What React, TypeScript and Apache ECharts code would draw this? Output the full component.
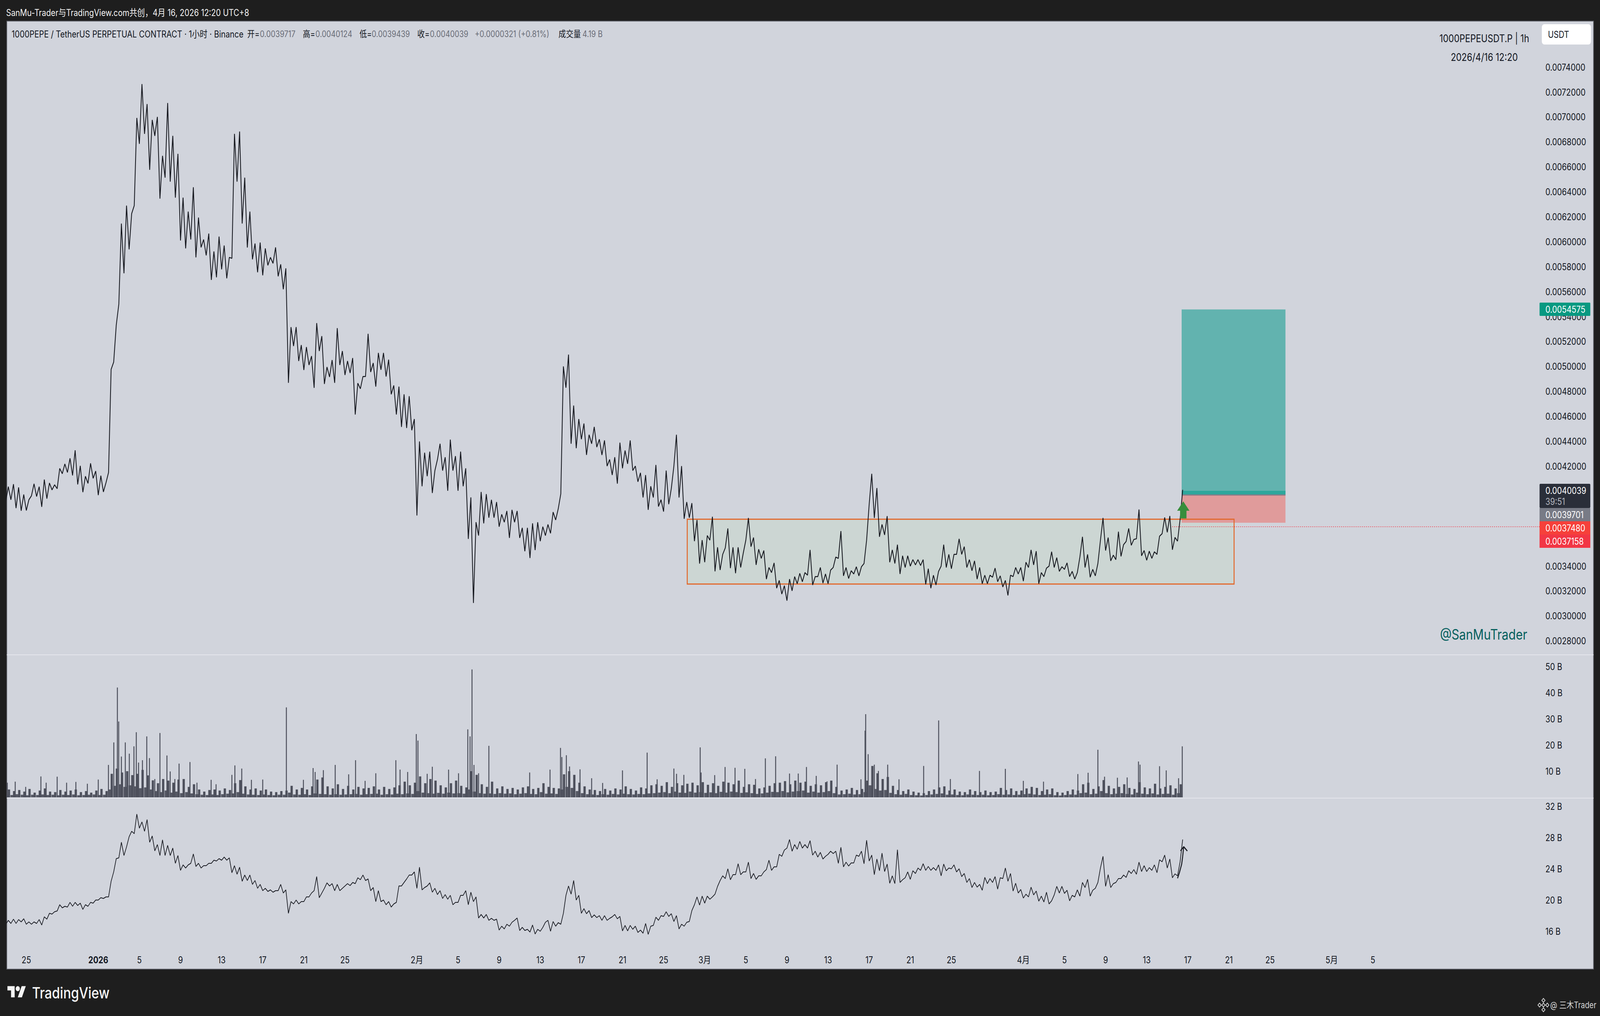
import React, { useEffect, useRef } from "react";
import * as echarts from "echarts";

// Days are counted from 2026-01-01; each row of the series below holds five days, two values a day.
const seriesStartDay = -9;
const halfDay = 0.5;

const priceLows = [
  3922,3932,3865,3844,3846,3964,3958,3875,3941,4011,
  4021,4141,4151,4127,4055,3993,4063,4104,3969,3995,
  4151,5036,5500,5747,5939,6290,6785,6865,6577,6849,
  6346,6514,6482,6354,6010,5947,6018,5875,5955,5891,
  5694,5715,5779,5707,5867,6482,6146,5954,5859,5755,
  5731,5811,5827,5723,5619,4869,5164,5044,4972,5012,
  4829,5124,4860,4916,4869,5012,4932,4948,4615,4822,
  4920,4956,4839,4974,4920,4777,4615,4516,4507,4489,
  3806,4040,4121,3986,4255,4166,4004,4166,4004,4040,
  3618,3105,3645,3743,3788,3788,3716,3752,3626,3752,
  3626,3519,3465,3528,3600,3645,3663,3770,3980,4830,
  4381,4345,4417,4291,4381,4354,4291,4202,4130,4061,
  4184,4220,4166,4076,3950,3851,3950,3878,3837,3896,
  4202,3950,3779,3788,3600,3420,3431,3608,3358,3369,
  3546,3384,3343,3389,3608,3556,3410,3462,3296,3348,
  3223,3176,3123,3202,3259,3275,3327,3249,3316,3264,
  3259,3389,3462,3322,3301,3337,3322,3421,3895,3786,
  3635,3650,3431,3421,3337,3389,3400,3410,3405,3254,
  3223,3249,3400,3389,3379,3494,3494,3389,3363,3296,
  3259,3259,3311,3275,3233,3165,3316,3337,3280,3389,
  3410,3259,3316,3400,3389,3358,3374,3316,3296,3473,
  3389,3311,3322,3608,3525,3442,3452,3478,3598,3567,
  3619,3483,3447,3462,3494,3660,3671,3531,3600,4012,
];
const priceHighs = [
  4037,4057,4031,3974,3932,4060,4037,4094,4066,4052,
  4183,4219,4264,4329,4204,4120,4224,4162,4125,4068,
  4977,5332,6146,6290,6226,6993,7264,7104,6977,7001,
  6689,7112,6849,6705,6354,6242,6437,6194,6018,6066,
  5923,6042,5970,5875,6865,6884,6514,6242,5986,5994,
  5947,5875,5955,5819,5787,5316,5316,5172,5156,5084,
  5348,5244,4996,5052,5308,5124,5044,5068,4866,4920,
  5262,5028,5109,5109,5055,4848,4839,4777,4762,4579,
  4399,4309,4318,4166,4381,4273,4414,4282,4318,4184,
  3951,3752,3995,3977,3932,3914,3815,3842,3851,3842,
  3707,3707,3743,3752,3716,3734,3833,3860,5001,5096,
  4687,4579,4543,4453,4516,4417,4408,4255,4273,4390,
  4327,4408,4202,4148,4130,4040,4211,3932,4166,4022,
  4453,4202,3914,3905,3770,3609,3645,3796,3551,3494,
  3702,3551,3551,3504,3786,3629,3535,3525,3389,3426,
  3285,3243,3296,3316,3342,3348,3530,3316,3389,3337,
  3368,3473,3681,3389,3363,3395,3395,3608,4140,4026,
  3734,3801,3530,3572,3483,3483,3452,3452,3452,3379,
  3327,3358,3572,3494,3494,3619,3556,3452,3442,3389,
  3327,3327,3384,3322,3285,3327,3389,3389,3431,3530,
  3520,3348,3384,3515,3468,3395,3426,3358,3348,3635,
  3494,3374,3421,3786,3629,3488,3676,3572,3702,3614,
  3854,3525,3520,3515,3640,3790,3802,3630,3776,
];
const volumeLows = [
  1,.9,1.2,1,.8,1,.9,1.1,.9,1,
  .8,1,.9,1.1,.8,.9,1,1.1,.9,1,
  3,4.4,5,4,4.6,4.2,3.5,3.8,3,2.4,
  2,2.6,1.8,2.2,1.6,2,1.5,1.2,1,.9,
  1.1,.9,1.2,1.4,1.5,2,1.4,1.1,1,.9,
  1.1,.9,.8,1,1,1.8,1.1,1,1.2,.9,
  1.5,1.3,1.2,1,1.2,1,1.1,1.2,1.3,1,
  1.2,1.3,1.4,1,1.2,1.1,1.4,1.2,1.5,1.3,
  2.4,1.8,1.6,1.4,1.7,1.4,1.8,1.5,1.6,1.4,
  3,2.2,1.6,1.4,1.5,1.3,1.6,1.4,1.5,1.2,
  1.4,1.6,1.3,1.2,2,1.4,1.5,1.3,3,4,
  3.6,2.4,1.6,1.2,1.1,.9,1.2,1,1.3,1.1,
  1.4,1.2,1.1,1.3,1.2,1.5,1.6,1.8,2,1.6,
  2.2,1.8,1.7,2.2,1.8,2,1.7,1.9,1.6,2.1,
  1.8,2.2,2,1.7,1.9,1.6,1.3,1.5,1.8,2.1,
  2,2.4,1.9,2.2,2.4,2.6,1.8,2.2,1.8,2,
  2.4,1.6,1.1,1.2,1.4,1.1,1.2,2,4.6,3.2,
  2.6,2.8,1.7,1.2,1,1.3,.9,.8,.7,.9,
  1.1,1.3,1.5,1,1.1,.9,.8,1.1,1,.9,
  1,.8,.9,1.2,1,1.1,.9,1,1.2,1.4,
  1.1,.9,1,1.2,.8,.7,.9,1.1,1,1.6,
  1.8,1.2,1.4,2.4,1.6,1.2,1.4,1.6,1.3,1.1,
  1.8,1.4,1.2,1.5,1.1,1.3,1.4,1,1.6,
];
const volumeHighs = [
  3,2.4,2.8,2.2,3.2,1.8,2.6,3.4,2.2,2,
  2.8,2.2,2.6,3,2,2.4,1.8,2.6,3.2,2.4,
  9,11,9.5,10,8.5,9,10.5,8.4,6.5,5.4,
  7,6.4,5.6,6.8,7,4,5,3,2.2,2.8,
  3,2.6,3.4,2.8,5.4,6.6,4.2,3,3.4,2.6,
  3,2.2,2,2.4,2.6,4.4,3,3.6,3,4.2,
  6.8,7.6,4.2,3.4,5,3.2,4.4,3,4,3.4,
  3.6,4.2,3,4,3.2,3.8,4.6,6,4.6,5.6,
  8,5.4,7,6.4,4.6,3.8,5.4,6.4,4.4,3.8,
  10,8.6,5,4,6,3.4,4.2,3.2,3.6,3,
  3.8,4.2,3.2,3.6,5.4,4,3.6,3.4,8.8,10,
  8.6,5.6,4.2,3,2.8,2.4,3.2,2.6,3.4,3,
  4.2,3.2,2.6,3.8,3.4,4.6,5,4.4,5.8,4,
  5.4,4.6,5.2,5.6,4.6,5.8,4.8,5.4,4.4,6,
  5.6,5,6.4,4,5,4.8,3.4,3.8,4.4,5.4,
  5.6,6.2,5,6.4,5.6,6,4.4,5,4.6,5.8,
  6.4,4,2.6,3,3.6,2.8,3.2,6.4,12,9.2,
  7,7.8,4.4,2.8,2.4,3,2.2,1.8,1.6,2.4,
  3,3.8,4.2,2.6,3,2.2,2,3,2.4,2,
  2.6,2,2.2,3.6,2.8,3.4,2.4,2.6,3.4,4,
  3.6,2.4,3,3.4,2,1.8,2.4,3,2.6,5,
  5.6,3.2,4.2,6.6,4.4,3.4,4,5,3.6,3.2,
  5.8,3.8,3.4,5.2,3.4,4,4.6,3.4,5,
];
const spikeDays = [
  -8.85,-8.08,-7.06,-5.58,-5.07,-4,-3.08,-2.18,-1.06,0,.99,1.51,1.86,1.99,2.25,2.63,3.02,3.47,3.7,3.92,
  4.3,4.72,4.98,5.5,6,6.68,7,7.45,7.86,8.92,9.6,10.98,11.46,13,13.29,13.96,14.9,16,18.3,19.96,
  20.9,21.1,21.9,23.05,24.36,25.03,25.96,27,28.95,29.36,30.1,30.94,31.1,32,32.5,34.08,35.05,35.95,36.17,36.36,
  36.55,37,38,41.97,43.95,44.97,45.1,45.54,45.85,46.87,48,49.07,51,53.4,54.37,56,56.26,56.97,58.56,58.65,
  59.97,60.98,61.95,62.9,63.94,64.9,65.9,67.25,68.1,68.9,69.85,70.9,71.88,74.2,74.6,74.66,74.9,75.5,75.9,76.8,
  77.9,80.3,81.76,82.9,85.73,88.25,90,91.96,95.3,96.3,97.25,97.9,99.15,100.1,101.2,101.35,103.25,103.9,105.1,105.46,
];
const spikeValues = [
  5.6,6,4,8,5.6,7.9,5.6,5.9,5.2,6.8,12.4,21,42,29,15.6,21,16.7,19.5,24.9,13.3,
  14.2,23.3,15,7,24.6,16,9.9,7,12.9,13.5,5.6,6.7,5,8.6,12.2,11,6.7,6.8,34.4,6.7,
  11.2,9.7,10.4,12.4,8.8,14.2,6.3,9.2,14.2,10.6,9.7,24.2,21.7,9,11.7,10.6,9.2,26,23.3,48.9,
  12.4,9.2,19.7,9.5,10.6,18.9,15.4,16.1,11.8,10.7,7.3,5.5,10.3,17.1,6.9,11,9,8.6,19.1,9.5,
  8.5,11.6,11.3,10.9,7,14.9,15.7,9.1,9.1,11.6,8.2,6.1,12.5,6.9,25.5,31.8,16.5,12.5,10.1,12.5,
  6.9,12,29.4,7,10.1,10.9,6.3,6,8.9,9.4,18.2,7.9,7.5,7.6,13.7,12.5,11.9,10.3,7.3,19.5,
];
const interestLows = [
  16.9,17,17,17.2,16.9,16.9,17,16.8,17.55,18.2,
  18.6,19,19.1,19.2,19.3,18.8,19.2,19.6,20,20.2,
  20.4,23.6,25.4,25.7,28.1,28.5,29.2,28.8,27.4,26.3,
  25.7,25.7,25.7,24.7,23.8,24.1,24.7,24.3,24.1,24.4,
  24.7,25,25.1,25.1,23.5,23.3,22.4,22.5,22,21.5,
  21.2,21.1,21,21.2,20.9,18.3,19.5,19.5,19.8,20.4,
  21.2,20.3,21.5,21.8,21.2,21.2,21.8,21.85,22.1,22.6,
  22.5,21.2,19.8,19.8,19.4,19.1,19.7,21.8,22.7,23.2,
  21.5,21.3,21.8,21,20.7,20.2,20.1,19.4,19.7,20.6,
  19.4,19.8,17.7,17.7,17.4,17.4,16.15,16.3,16.65,17.4,
  16.1,16.1,15.9,15.65,16,17.15,16,16.65,16.9,20.6,
  20.75,20,18.3,18.25,17.75,17.75,17.4,17.4,17.85,17.6,
  16.05,16.05,16.25,15.85,15.75,15.6,16.75,17.4,17.9,17.9,
  17.25,16.3,16.65,17.25,19.4,19.35,19.6,20.1,20.75,22.5,
  22.75,22.6,23.25,23.25,23.6,22.75,22.65,23.1,23.9,23.8,
  24.25,25.6,26.65,26.25,26.5,26.65,26.65,25.75,25.5,25.25,
  25.85,25.95,24.7,24.25,24.35,24.75,25.6,24.65,25,23.25,
  23.75,23.65,22.15,22.1,22.25,22.85,22.65,23.4,23.8,23.8,
  23.8,23.8,23.1,23.75,24,23.6,23,22.25,21.6,21.65,
  21.25,22.1,22.25,21.4,22.75,22.4,21.15,20.9,20.25,20.4,
  20.65,19.85,19.75,19.5,20.65,20.9,20.85,19.9,20.4,20.5,
  21.6,20.5,21.5,24.1,21.75,21.6,22.25,22.75,22.9,23.4,
  23.3,23.65,23.65,23.8,23.5,24.9,24.1,22.85,23.1,27.75,
];
const interestHighs = [
  17.4,17.55,17.5,17.6,17.2,17.2,17.5,17.85,18.3,18.5,
  19.4,19.2,19.7,19.7,19.6,19.4,19.7,20,20.3,20.4,
  22.4,25.3,27.4,26.8,28.8,31,30,30.3,28.2,27.1,
  27.7,27,26.65,25.7,24.5,24.5,25.9,24.7,24.4,24.7,
  25.1,25.3,25.5,25.4,24.4,24.2,23.2,23.2,22.5,22,
  21.5,21.3,21.2,22,21.3,19.8,20,19.8,20.4,20.9,
  23,20.9,22.2,22.1,22,21.5,22.1,22.25,22.85,23.2,
  22.7,21.6,21.2,20,19.8,19.5,21.8,22.25,23.2,23.6,
  24.2,21.6,22.2,21.5,21.2,20.7,20.6,19.7,20.6,21.2,
  21,20.4,18.15,18.15,17.66,17.55,16.65,16.9,17.15,17.7,
  16.5,16.25,16.8,16.25,16.5,17.4,17.25,17.1,18.3,21.8,
  22.5,20.6,18.9,18.65,18.1,18,18,17.65,18.15,17.9,
  16.75,16.75,16.65,16.15,17,16.65,17.8,18,18.5,18.25,
  18,16.9,17.15,18.65,20.4,20.5,20.5,20.4,21.75,23.1,
  24,23.25,24.65,23.6,24.85,23.4,23.1,23.6,25.1,24.25,
  25.85,26.4,27.75,27.1,27.5,27.1,27.6,26.25,26.1,25.6,
  26.25,26.25,26.75,24.85,24.75,25.75,26.25,27.65,25.75,25.25,
  26,24.6,23.1,26.45,22.6,23.6,23.75,24.1,24.65,24.3,
  24.15,24.5,24.6,24.1,24.5,24,23.4,22.75,22.25,22,
  22.9,22.75,23,22.85,24.1,23.4,22.15,21.35,20.75,21.65,
  21.15,20.5,21,19.9,21.75,21.75,21.25,20.6,21.3,22.25,
  22.65,21.25,22.25,25.6,23.25,22.1,22.75,23.2,23.75,23.9,
  24.85,24.4,24.15,24.5,25.15,25.75,25.25,23.35,24.9,
];

const dateTickDays = [-7,0,4,8,12,16,20,24,31,35,39,43,47,51,55,59,63,67,71,75,79,83,90,94,98,102,106,110,114,120,124];
const dateTickLabels = ["25","2026","5","9","13","17","21","25","2月","5","9","13","17","21","25","3月","5","9","13","17","21","25","4月","5","9","13","17","21","25","5月","5"];
const priceTicks = [7400,7200,7000,6800,6600,6400,6200,6000,5800,5600,5400,5200,5000,4800,4600,4400,4200,3400,3200,3000,2800];
const volumeTicks = [10,20,30,40,50];
const interestTicks = [16,20,24,28,32];

// Drawings on the price pane: [startDay, endDay, lowPrice, highPrice], prices in 1e-6 units.
const rangeBox = [57.3, 110.5, 3256, 3776];
const targetZone = [105.4, 115.5, 3970.1, 5457.5];
const openProfitZone = [105.4, 115.5, 3970.1, 4003.9];
const stopZone = [105.4, 115.5, 3748, 3970.1];
const entryEdge = [105.4, 115.5, 3965, 3975];
const stopLine = [[104.3, 3715.8], [140.22, 3715.8]];
const arrowOutline = [[105.56,3919],[106.16,3844],[105.87,3844],[105.87,3782],[105.25,3782],[105.25,3844],[104.96,3844]];
const interestCurve = [[105,22.78],[105.18,23.5],[105.4,24.58],[105.5,25.58],[105.6,26.83]];
const interestHead = [[105.29,26.3],[105.6,26.83],[105.95,26.28]];

const INK = "#131722";
const FONT = "Inter, 'Noto Sans CJK SC', sans-serif";
const PANEL = "#d1d4dc";
const DARK = "#1e1e1e";
const xMin = -8.9;
const xMax = 140.22;
const DESIGN_WIDTH = 4950;
const DESIGN_HEIGHT = 2602;

echarts.graphic.registerShape("tvmark", echarts.graphic.extendPath("M14 22H7V11H0V4h14v18zM28 22h-8l7.5-18h8L28 22z", {}));

const zigzag = (lows: number[], highs: number[]) => {
  const out: number[][] = [];
  lows.forEach((v, i) => {
    out.push([seriesStartDay + i * halfDay, v]);
    if (i < highs.length) out.push([seriesStartDay + i * halfDay + halfDay / 2, highs[i]]);
  });
  return out;
};
const atHalfDays = (values: number[], offset: number) => values.map((v, i) => [seriesStartDay + i * halfDay + offset, v]);

const zoneSeries = (row: number[], fill: string) => ({
  type: "custom", xAxisIndex: 0, yAxisIndex: 0, z: 2, silent: true,
  data: [row],
  renderItem: (_: any, api: any) => {
    const a = api.coord([api.value(0), api.value(3)]);
    const b = api.coord([api.value(1), api.value(2)]);
    return { type: "rect", shape: { x: a[0], y: a[1], width: b[0] - a[0], height: b[1] - a[1] }, style: { fill } };
  },
});

const txt = (text: string, x: number, y: number, size: number, fill: string, extra: any = {}) => ({
  type: "text", z: 100, silent: true,
  style: { text, x, y, fontSize: size, fontFamily: FONT, fill, textAlign: "left", textVerticalAlign: "middle", ...extra },
});
const box = (x: number, y: number, w: number, h: number, fill: string, extra: any = {}) => ({
  type: "rect", z: 99, silent: true, shape: { x, y, width: w, height: h, r: extra.r || 0 }, style: { fill },
});
const diamond = (cx: number, cy: number, r: number) => ({
  type: "polygon", z: 100, silent: true,
  shape: { points: [[cx, cy - r], [cx + r, cy], [cx, cy + r], [cx - r, cy]] },
  style: { fill: "none", stroke: "#d6d6d6", lineWidth: 2 },
});

const axisText = { color: INK, fontFamily: FONT, fontSize: 24 };

export default function App() {
  const ref = useRef<HTMLDivElement>(null);
  useEffect(() => {
    document.body.style.margin = "0";
    document.documentElement.style.overflow = "hidden";
    const chart = echarts.init(ref.current!, null, { renderer: "svg" });
    const hiddenX = (gridIndex: number) => ({ type: "value", gridIndex, min: xMin, max: xMax, show: false });
    chart.setOption({
      animation: false,
      backgroundColor: DARK,
      grid: [
        { left: 21, top: 54, width: 4742, height: 1623 },
        { left: 21, top: 1677, width: 4742, height: 365 },
        { left: 21, top: 2045, width: 4742, height: 435 },
      ],
      xAxis: [
        hiddenX(0),
        hiddenX(1),
        {
          type: "value", gridIndex: 2, min: xMin, max: xMax, z: 5,
          axisLine: { show: false }, axisTick: { show: false }, splitLine: { show: false },
          axisLabel: {
            ...axisText, inside: true, margin: 10, verticalAlign: "bottom",
            customValues: dateTickDays,
            formatter: (v: number) => {
              const label = dateTickLabels[dateTickDays.indexOf(v)] ?? "";
              return label === "2026" ? "{b|2026}" : label;
            },
            rich: { b: { ...axisText, fontWeight: "bold" } },
          },
        },
      ],
      yAxis: [
        {
          type: "value", gridIndex: 0, position: "right", min: 2689, max: 7769, z: 5,
          axisLine: { show: false }, axisTick: { show: false }, splitLine: { show: false },
          axisLabel: { ...axisText, margin: 18, align: "left", customValues: priceTicks, formatter: (v: number) => (v / 1e6).toFixed(7) },
        },
        {
          type: "value", gridIndex: 1, position: "right", min: 0, max: 54.5, z: 5,
          axisLine: { show: false }, axisTick: { show: false }, splitLine: { show: false },
          axisLabel: { ...axisText, margin: 18, align: "left", customValues: volumeTicks, formatter: (v: number) => `${v} B` },
        },
        {
          type: "value", gridIndex: 2, position: "right", min: 11.25, max: 33, z: 5,
          axisLine: { show: false }, axisTick: { show: false }, splitLine: { show: false },
          axisLabel: { ...axisText, margin: 18, align: "left", customValues: interestTicks, formatter: (v: number) => `${v} B` },
        },
      ],
      series: [
        zoneSeries(rangeBox, "#ccd6d3"),
        zoneSeries(targetZone, "#62b3af"),
        zoneSeries(stopZone, "#e09b9b"),
        zoneSeries(openProfitZone, "#2da79c"),
        zoneSeries(entryEdge, "#867d88"),
        {
          type: "custom", xAxisIndex: 0, yAxisIndex: 0, z: 3, silent: true, data: [rangeBox],
          renderItem: (_: any, api: any) => {
            const a = api.coord([api.value(0), api.value(3)]);
            const b = api.coord([api.value(1), api.value(2)]);
            return { type: "rect", shape: { x: a[0], y: a[1], width: b[0] - a[0], height: b[1] - a[1] }, style: { fill: "none", stroke: "#e2682c", lineWidth: 3 } };
          },
        },
        {
          type: "line", xAxisIndex: 0, yAxisIndex: 0, z: 3, data: stopLine, showSymbol: false, silent: true,
          lineStyle: { color: "#f23645", width: 2, type: [2, 4] },
        },
        {
          type: "line", xAxisIndex: 0, yAxisIndex: 0, z: 4, data: zigzag(priceLows, priceHighs), showSymbol: false, silent: true,
          lineStyle: { color: "#16181f", width: 2.5 },
        },
        {
          type: "custom", xAxisIndex: 0, yAxisIndex: 0, z: 6, silent: true, data: [[0]],
          renderItem: (_: any, api: any) => ({
            type: "polygon",
            shape: { points: arrowOutline.map((p) => api.coord(p)) },
            style: { fill: "#388e3c" },
          }),
        },
        {
          type: "bar", xAxisIndex: 1, yAxisIndex: 1, z: 3, barWidth: 14, barGap: "-100%", silent: true,
          data: atHalfDays(volumeLows, 0), itemStyle: { color: "#565965" },
        },
        {
          type: "bar", xAxisIndex: 1, yAxisIndex: 1, z: 3, barWidth: 7, barGap: "-100%", silent: true,
          data: atHalfDays(volumeHighs, halfDay / 2), itemStyle: { color: "#4d505c" },
        },
        {
          type: "bar", xAxisIndex: 1, yAxisIndex: 1, z: 3, barWidth: 3, barGap: "-100%", silent: true,
          data: spikeDays.map((d, i) => [d, spikeValues[i]]), itemStyle: { color: "#4d505c" },
        },
        {
          type: "line", xAxisIndex: 2, yAxisIndex: 2, z: 4, data: zigzag(interestLows, interestHighs), showSymbol: false, silent: true,
          lineStyle: { color: "#16181f", width: 2 },
        },
        {
          type: "line", xAxisIndex: 2, yAxisIndex: 2, z: 5, data: interestCurve, showSymbol: false, silent: true,
          lineStyle: { color: "#16181f", width: 3 },
        },
        {
          type: "line", xAxisIndex: 2, yAxisIndex: 2, z: 5, data: interestHead, showSymbol: false, silent: true,
          lineStyle: { color: "#16181f", width: 3 },
        },
      ],
      graphic: [
        { type: "rect", z: 0, silent: true, shape: { x: 21, y: 54, width: 4909, height: 2428 }, style: { fill: PANEL, stroke: "#5c5e66", lineWidth: 2 } },
        box(21, 1676, 4909, 2, "#e4e6ec"),
        box(21, 2043, 4909, 2, "#e4e6ec"),
        txt("SanMu-Trader与TradingView.com共创，4月 16, 2026 12:20 UTC+8", 19, 32, 24, "#f0f0f0"),
        txt("1000PEPE / TetherUS PERPETUAL CONTRACT · 1小时 · Binance", 36, 87, 24, INK),
        txt("开=", 765, 87, 23, INK),
        txt("0.0039717", 804, 87, 22.5, "#6a6d78"),
        txt("高=", 937, 87, 23, INK),
        txt("0.0040124", 976, 87, 22.5, "#6a6d78"),
        txt("低=", 1112, 87, 23, INK),
        txt("0.0039439", 1150, 87, 22.5, "#6a6d78"),
        txt("收=", 1291, 87, 23, INK),
        txt("0.0040039", 1330, 87, 22.5, "#6a6d78"),
        txt("+0.0000321 (+0.81%)", 1469, 87, 22.5, "#6a6d78"),
        txt("成交量", 1728, 87, 23, INK),
        txt("4.19 B", 1802, 87, 22.5, "#6a6d78"),
        txt("1000PEPEUSDT.P | 1h", 4592, 98, 27, INK, { textAlign: "center" }),
        txt("2026/4/16 12:20", 4592, 146, 27, INK, { textAlign: "center" }),
        box(4770, 62, 152, 52, "#ffffff", { r: 8 }),
        txt("USDT", 4789, 88, 24, INK),
        box(4763, 775, 157, 34, "#089981", { r: 2 }),
        txt("0.0054575", 4781, 792, 24, "#ffffff"),
        box(4763, 1239, 157, 62, "#2a2e39", { r: 3 }),
        txt("0.0040039", 4781, 1256, 24, "#ffffff"),
        txt("39:51", 4781, 1284, 24, "#b2b5be"),
        box(4763, 1301, 157, 34, "#787b86"),
        txt("0.0039701", 4781, 1318, 24, "#ffffff"),
        box(4763, 1335, 157, 34, "#f6403a"),
        txt("0.0037480", 4781, 1352, 24, "#ffffff"),
        box(4763, 1369, 157, 34, "#f23645"),
        txt("0.0037158", 4781, 1386, 24, "#ffffff"),
        txt("@SanMuTrader", 4455, 1624, 37, "#06605e"),
        { type: "tvmark", z: 100, silent: true, x: 23, y: 2519, scaleX: 1.6, scaleY: 1.6, style: { fill: "#f5f5f5" } },
        { type: "circle", z: 100, silent: true, shape: { cx: 55, cy: 2532, r: 6.4 }, style: { fill: "#f5f5f5" } },
        txt("TradingView", 99, 2542, 40, "#f5f5f5", { fontWeight: 500 }),
        diamond(4775, 2562, 5),
        diamond(4775, 2586, 5),
        diamond(4763, 2574, 5),
        diamond(4787, 2574, 5),
        diamond(4775, 2574, 5),
        txt("@ 三木Trader", 4796, 2574, 22.5, "#d6d6d6"),
      ],
    });
    return () => chart.dispose();
  }, []);
  // The layout is authored at 4950x2602; fit it to whatever window the page actually gets.
  const sx = window.innerWidth / DESIGN_WIDTH;
  const sy = window.innerHeight / DESIGN_HEIGHT;
  return (
    <div
      ref={ref}
      style={{
        position: "absolute", left: 0, top: 0, width: DESIGN_WIDTH, height: DESIGN_HEIGHT,
        transformOrigin: "0 0", transform: `scale(${sx}, ${sy})`,
      }}
    />
  );
}
